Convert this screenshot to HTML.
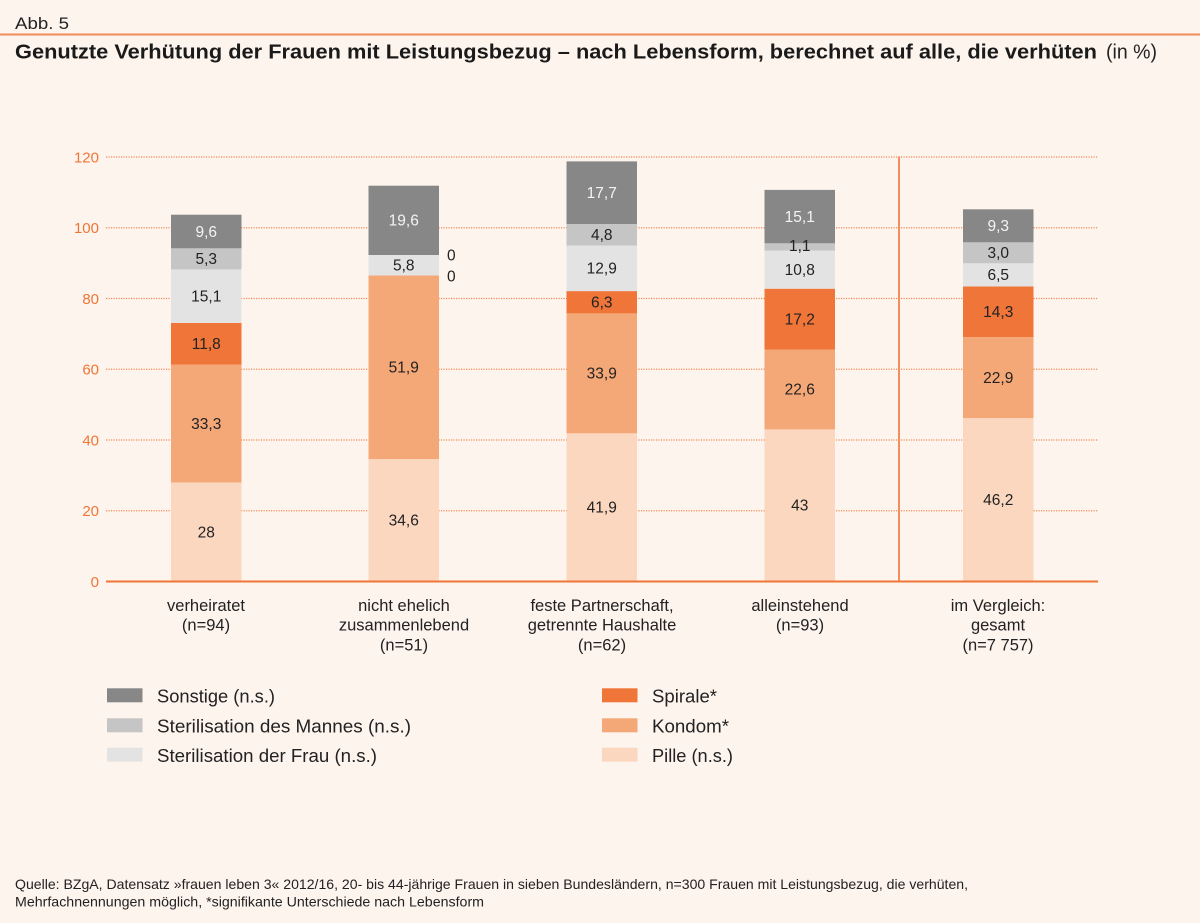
<!DOCTYPE html>
<html>
<head>
<meta charset="utf-8">
<style>
  html,body{margin:0;padding:0;background:#fdf4ee;}
  svg{display:block;}
  text{font-family:"Liberation Sans", Arial, sans-serif;}
</style>
</head>
<body>
<svg width="1200" height="923" viewBox="0 0 1200 923" xmlns="http://www.w3.org/2000/svg">
  <rect x="0" y="0" width="1200" height="923" fill="#fdf4ee"/>

  <!-- header -->
  <text x="15" y="29" font-size="17" fill="#222" textLength="54" lengthAdjust="spacingAndGlyphs">Abb. 5</text>
  <line x1="0" y1="34.5" x2="1200" y2="34.5" stroke="#f08c5a" stroke-width="2"/>
  <text x="15" y="58.5" font-size="20" font-weight="bold" fill="#1a1a1a" textLength="1082" lengthAdjust="spacingAndGlyphs">Genutzte Verhütung der Frauen mit Leistungsbezug – nach Lebensform, berechnet auf alle, die verhüten</text>
  <text x="1106" y="58.5" font-size="20" fill="#222" textLength="51" lengthAdjust="spacingAndGlyphs">(in %)</text>

  <!-- grid lines -->
  <g stroke="#f08a55" stroke-width="1.2" stroke-dasharray="1.2 1.3">
    <line x1="106" y1="157" x2="1098" y2="157"/>
    <line x1="106" y1="227.75" x2="1098" y2="227.75"/>
    <line x1="106" y1="298.5" x2="1098" y2="298.5"/>
    <line x1="106" y1="369.25" x2="1098" y2="369.25"/>
    <line x1="106" y1="440" x2="1098" y2="440"/>
    <line x1="106" y1="510.75" x2="1098" y2="510.75"/>
  </g>

  <!-- y tick labels -->
  <g font-size="15" fill="#ef7637" text-anchor="end">
    <text x="99" y="162.3">120</text>
    <text x="99" y="233">100</text>
    <text x="99" y="303.8">80</text>
    <text x="99" y="374.5">60</text>
    <text x="99" y="445.3">40</text>
    <text x="99" y="516">20</text>
    <text x="99" y="586.8">0</text>
  </g>

  <!-- separator -->
  <line x1="899" y1="156.5" x2="899" y2="581.5" stroke="#ef7637" stroke-width="1.6"/>

  <!-- Bar 1 -->
  <g>
    <rect x="171" y="482.45" width="70.5" height="99.05" fill="#fbd7bf"/>
    <rect x="171" y="364.65" width="70.5" height="117.8" fill="#f5a877"/>
    <rect x="171" y="322.9" width="70.5" height="41.75" fill="#ef7538"/>
    <rect x="171" y="269.4" width="70.5" height="53.5" fill="#e3e3e3"/>
    <rect x="171" y="248.3" width="70.5" height="21.1" fill="#c5c5c5"/>
    <rect x="171" y="214.7" width="70.5" height="33.6" fill="#878787"/>
  </g>
  <!-- Bar 2 -->
  <g>
    <rect x="368.5" y="459.1" width="70.5" height="122.4" fill="#fbd7bf"/>
    <rect x="368.5" y="275.5" width="70.5" height="183.6" fill="#f5a877"/>
    <rect x="368.5" y="255" width="70.5" height="20.5" fill="#e3e3e3"/>
    <rect x="368.5" y="185.7" width="70.5" height="69.3" fill="#878787"/>
  </g>
  <!-- Bar 3 -->
  <g>
    <rect x="566.5" y="433.3" width="70.5" height="148.2" fill="#fbd7bf"/>
    <rect x="566.5" y="313.4" width="70.5" height="119.9" fill="#f5a877"/>
    <rect x="566.5" y="291.1" width="70.5" height="22.3" fill="#ef7538"/>
    <rect x="566.5" y="245.5" width="70.5" height="45.6" fill="#e3e3e3"/>
    <rect x="566.5" y="224" width="70.5" height="21.5" fill="#c5c5c5"/>
    <rect x="566.5" y="161.4" width="70.5" height="62.6" fill="#878787"/>
  </g>
  <!-- Bar 4 -->
  <g>
    <rect x="764.5" y="429.4" width="70.5" height="152.1" fill="#fbd7bf"/>
    <rect x="764.5" y="349.5" width="70.5" height="79.9" fill="#f5a877"/>
    <rect x="764.5" y="288.7" width="70.5" height="60.8" fill="#ef7538"/>
    <rect x="764.5" y="250.5" width="70.5" height="38.2" fill="#e3e3e3"/>
    <rect x="764.5" y="243.3" width="70.5" height="7.2" fill="#c5c5c5"/>
    <rect x="764.5" y="189.9" width="70.5" height="53.4" fill="#878787"/>
  </g>
  <!-- Bar 5 -->
  <g>
    <rect x="963" y="418.1" width="70.5" height="163.4" fill="#fbd7bf"/>
    <rect x="963" y="337.1" width="70.5" height="81" fill="#f5a877"/>
    <rect x="963" y="286.5" width="70.5" height="50.6" fill="#ef7538"/>
    <rect x="963" y="263.3" width="70.5" height="23.2" fill="#e3e3e3"/>
    <rect x="963" y="242.3" width="70.5" height="21" fill="#c5c5c5"/>
    <rect x="963" y="209.3" width="70.5" height="33" fill="#878787"/>
  </g>

  <!-- baseline -->
  <line x1="106" y1="581.5" x2="1098" y2="581.5" stroke="#ef7637" stroke-width="2"/>

  <!-- value labels -->
  <g font-size="15.5" text-anchor="middle" fill="#222">
    <!-- bar 1 -->
    <text x="206.25" y="237" fill="#f4f4f4">9,6</text>
    <text x="206.25" y="264">5,3</text>
    <text x="206.25" y="301.5">15,1</text>
    <text x="206.25" y="349">11,8</text>
    <text x="206.25" y="428.8">33,3</text>
    <text x="206.25" y="537.3">28</text>
    <!-- bar 2 -->
    <text x="403.75" y="225.7" fill="#f4f4f4">19,6</text>
    <text x="403.75" y="270.5">5,8</text>
    <text x="403.75" y="372.6">51,9</text>
    <text x="403.75" y="525.6">34,6</text>
    <text x="447" y="260.3" text-anchor="start">0</text>
    <text x="447" y="281.5" text-anchor="start">0</text>
    <!-- bar 3 -->
    <text x="601.75" y="198" fill="#f4f4f4">17,7</text>
    <text x="601.75" y="240">4,8</text>
    <text x="601.75" y="273.6">12,9</text>
    <text x="601.75" y="307.5">6,3</text>
    <text x="601.75" y="378.6">33,9</text>
    <text x="601.75" y="512.7">41,9</text>
    <!-- bar 4 -->
    <text x="799.75" y="221.9" fill="#f4f4f4">15,1</text>
    <text x="799.75" y="250.8">1,1</text>
    <text x="799.75" y="274.9">10,8</text>
    <text x="799.75" y="324.4">17,2</text>
    <text x="799.75" y="394.7">22,6</text>
    <text x="799.75" y="510.7">43</text>
    <!-- bar 5 -->
    <text x="998.25" y="231.1" fill="#f4f4f4">9,3</text>
    <text x="998.25" y="258">3,0</text>
    <text x="998.25" y="280.2">6,5</text>
    <text x="998.25" y="317.1">14,3</text>
    <text x="998.25" y="382.9">22,9</text>
    <text x="998.25" y="505.1">46,2</text>
  </g>

  <!-- category labels -->
  <g font-size="16.5" text-anchor="middle" fill="#222">
    <text x="206" y="611">verheiratet</text>
    <text x="206" y="630.5">(n=94)</text>

    <text x="404" y="611">nicht ehelich</text>
    <text x="404" y="630.5">zusammenlebend</text>
    <text x="404" y="650.5">(n=51)</text>

    <text x="602" y="611">feste Partnerschaft,</text>
    <text x="602" y="630.5">getrennte Haushalte</text>
    <text x="602" y="650.5">(n=62)</text>

    <text x="800" y="611">alleinstehend</text>
    <text x="800" y="630.5">(n=93)</text>

    <text x="998" y="611">im Vergleich:</text>
    <text x="998" y="630.5">gesamt</text>
    <text x="998" y="650.5">(n=7 757)</text>
  </g>

  <!-- legend -->
  <g>
    <rect x="107" y="688.3" width="35.5" height="14" fill="#878787"/>
    <rect x="107" y="718.3" width="35.5" height="14" fill="#c5c5c5"/>
    <rect x="107" y="747.7" width="35.5" height="14" fill="#e3e3e3"/>
    <rect x="602" y="688.3" width="35.5" height="14" fill="#ef7538"/>
    <rect x="602" y="718.3" width="35.5" height="14" fill="#f5a877"/>
    <rect x="602" y="747.7" width="35.5" height="14" fill="#fbd7bf"/>
  </g>
  <g font-size="18.5" fill="#222">
    <text x="157" y="702.7" textLength="118" lengthAdjust="spacingAndGlyphs">Sonstige (n.s.)</text>
    <text x="157" y="732.5" textLength="254" lengthAdjust="spacingAndGlyphs">Sterilisation des Mannes (n.s.)</text>
    <text x="157" y="762" textLength="220" lengthAdjust="spacingAndGlyphs">Sterilisation der Frau (n.s.)</text>
    <text x="652" y="702.7" textLength="65" lengthAdjust="spacingAndGlyphs">Spirale*</text>
    <text x="652" y="732.5" textLength="77" lengthAdjust="spacingAndGlyphs">Kondom*</text>
    <text x="652" y="762" textLength="81" lengthAdjust="spacingAndGlyphs">Pille (n.s.)</text>
  </g>

  <!-- footer -->
  <g font-size="14" fill="#222">
    <text x="15" y="889" textLength="953" lengthAdjust="spacingAndGlyphs">Quelle: BZgA, Datensatz »frauen leben 3« 2012/16, 20- bis 44-jährige Frauen in sieben Bundesländern, n=300 Frauen mit Leistungsbezug, die verhüten,</text>
    <text x="15" y="906.5" textLength="469" lengthAdjust="spacingAndGlyphs">Mehrfachnennungen möglich, *signifikante Unterschiede nach Lebensform</text>
  </g>
</svg>
</body>
</html>
